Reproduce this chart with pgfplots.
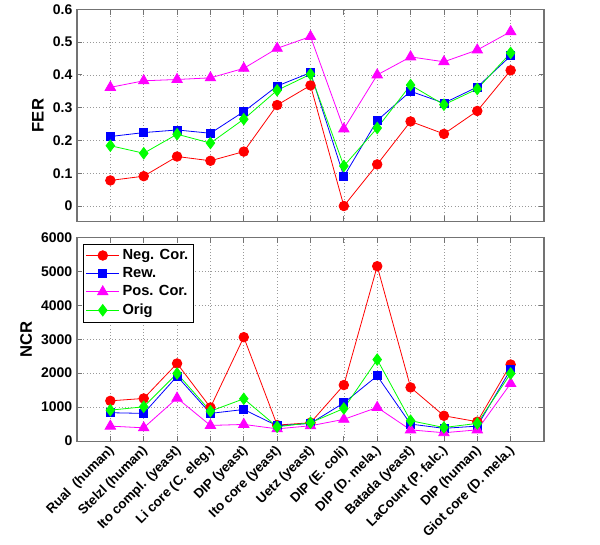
\documentclass[border=0pt]{standalone}
\usepackage{pgfplots}
\pgfplotsset{compat=1.18}
\usepackage{fontspec}
\setmainfont{Liberation Sans}
\definecolor{axgray}{gray}{0.45}
\definecolor{gridgray}{gray}{0.6}
\definecolor{cred}{RGB}{255,0,0}
\definecolor{cblue}{RGB}{0,0,255}
\definecolor{cmag}{RGB}{255,0,255}
\definecolor{cgreen}{RGB}{0,255,0}
\pgfplotsset{
  myaxis/.style={
    scale only axis,
    width=350.25pt,
    xmin=0, xmax=14,
    xtick={1,...,13},
    axis line style={axgray, line width=0.8pt},
    tick style={axgray, line width=0.6pt},
    major tick length=4pt,
    tick align=inside,
    xmajorgrids, ymajorgrids,
    grid style={gridgray, dotted, line width=0.5pt},
    /pgf/number format/assume math mode=true,
    yticklabel style={font=\fontsize{10.5}{12}\selectfont\bfseries},
    ylabel style={font=\fontsize{12.5}{14}\selectfont\bfseries},
    every axis plot/.append style={line width=0.6pt},
  },
  negs/.style={color=cred, mark=*, mark size=3.6pt, mark options={solid, fill=cred, draw=cred}},
  rews/.style={color=cblue, mark=square*, mark size=3pt, mark options={solid, fill=cblue, draw=cblue}},
  poss/.style={color=cmag, mark=triangle*, mark size=4.5pt, mark options={solid, fill=cmag, draw=cmag}},
  origs/.style={color=cgreen, mark=diamond*, mark size=4.3pt, mark options={solid, fill=cgreen, draw=cgreen}},
}
\begin{document}
\begin{tikzpicture}
\path[use as bounding box] (0,0) rectangle (450pt,-408pt);
% ---------- top: FER ----------
\begin{axis}[myaxis,
  at={(57.75pt,-7pt)}, anchor=north west,
  height=159.3pt,
  ymin=-0.048, ymax=0.6,
  ytick={0,0.1,0.2,0.3,0.4,0.5,0.6},
  yticklabels={0,0.1,0.2,0.3,0.4,0.5,0.6},
  xticklabels={},
  ylabel={FER},
]
\addplot[negs] coordinates {(1,0.078) (2,0.091) (3,0.151) (4,0.138) (5,0.166) (6,0.308) (7,0.368) (8,0.0) (9,0.127) (10,0.258) (11,0.220) (12,0.290) (13,0.414)};
\addplot[rews] coordinates {(1,0.212) (2,0.224) (3,0.232) (4,0.222) (5,0.288) (6,0.366) (7,0.407) (8,0.090) (9,0.261) (10,0.350) (11,0.314) (12,0.363) (13,0.458)};
\addplot[poss] coordinates {(1,0.362) (2,0.382) (3,0.386) (4,0.391) (5,0.420) (6,0.481) (7,0.517) (8,0.235) (9,0.400) (10,0.455) (11,0.440) (12,0.476) (13,0.532)};
\addplot[origs] coordinates {(1,0.184) (2,0.161) (3,0.219) (4,0.192) (5,0.265) (6,0.353) (7,0.402) (8,0.122) (9,0.238) (10,0.369) (11,0.309) (12,0.357) (13,0.467)};
\end{axis}
% ---------- bottom: NCR ----------
\begin{axis}[myaxis,
  at={(57.75pt,-178pt)}, anchor=north west,
  height=152.8pt,
  ymin=0, ymax=6000,
  ytick={0,1000,2000,3000,4000,5000,6000},
  yticklabels={0,1000,2000,3000,4000,5000,6000},
  xticklabels={{Rual~ (human)},{Stelzl (human)},{Ito compl. (yeast)},{Li core (C. eleg.)},{DIP (yeast)},{Ito core (yeast)},{Uetz (yeast)},{DIP (E. coli)},{DIP (D. mela.)},{Batada (yeast)},{LaCount (P. falc.)},{DIP (human)},{Giot core (D. mela.)}},
  xticklabel style={font=\fontsize{10}{12}\selectfont\bfseries, rotate=45, anchor=east, inner sep=1pt, xshift=-2pt, yshift=-5pt},
  ylabel={NCR},
  legend style={at={(0.012,0.969)}, anchor=north west, draw=black, line width=0.6pt,
    font=\fontsize{11}{13}\selectfont\bfseries, row sep=0.5pt, inner sep=2pt},
  legend cell align=left,
  legend image code/.code={\draw[mark repeat=2, mark phase=2, #1] plot coordinates {(0cm,0cm) (0.44cm,0cm) (0.88cm,0cm)};},
]
\addplot[negs] coordinates {(1,1185) (2,1255) (3,2285) (4,990) (5,3060) (6,470) (7,540) (8,1650) (9,5150) (10,1580) (11,745) (12,570) (13,2255)};
\addplot[rews] coordinates {(1,835) (2,815) (3,1910) (4,815) (5,930) (6,450) (7,520) (8,1125) (9,1920) (10,500) (11,375) (12,440) (13,2110)};
\addplot[poss] coordinates {(1,440) (2,390) (3,1265) (4,460) (5,490) (6,360) (7,450) (8,640) (9,990) (10,330) (11,245) (12,330) (13,1695)};
\addplot[origs] coordinates {(1,910) (2,1010) (3,1990) (4,880) (5,1245) (6,420) (7,540) (8,960) (9,2400) (10,600) (11,400) (12,520) (13,1990)};
\legend{Neg. Cor., Rew., Pos. Cor., Orig}
\end{axis}
\end{tikzpicture}
\end{document}
